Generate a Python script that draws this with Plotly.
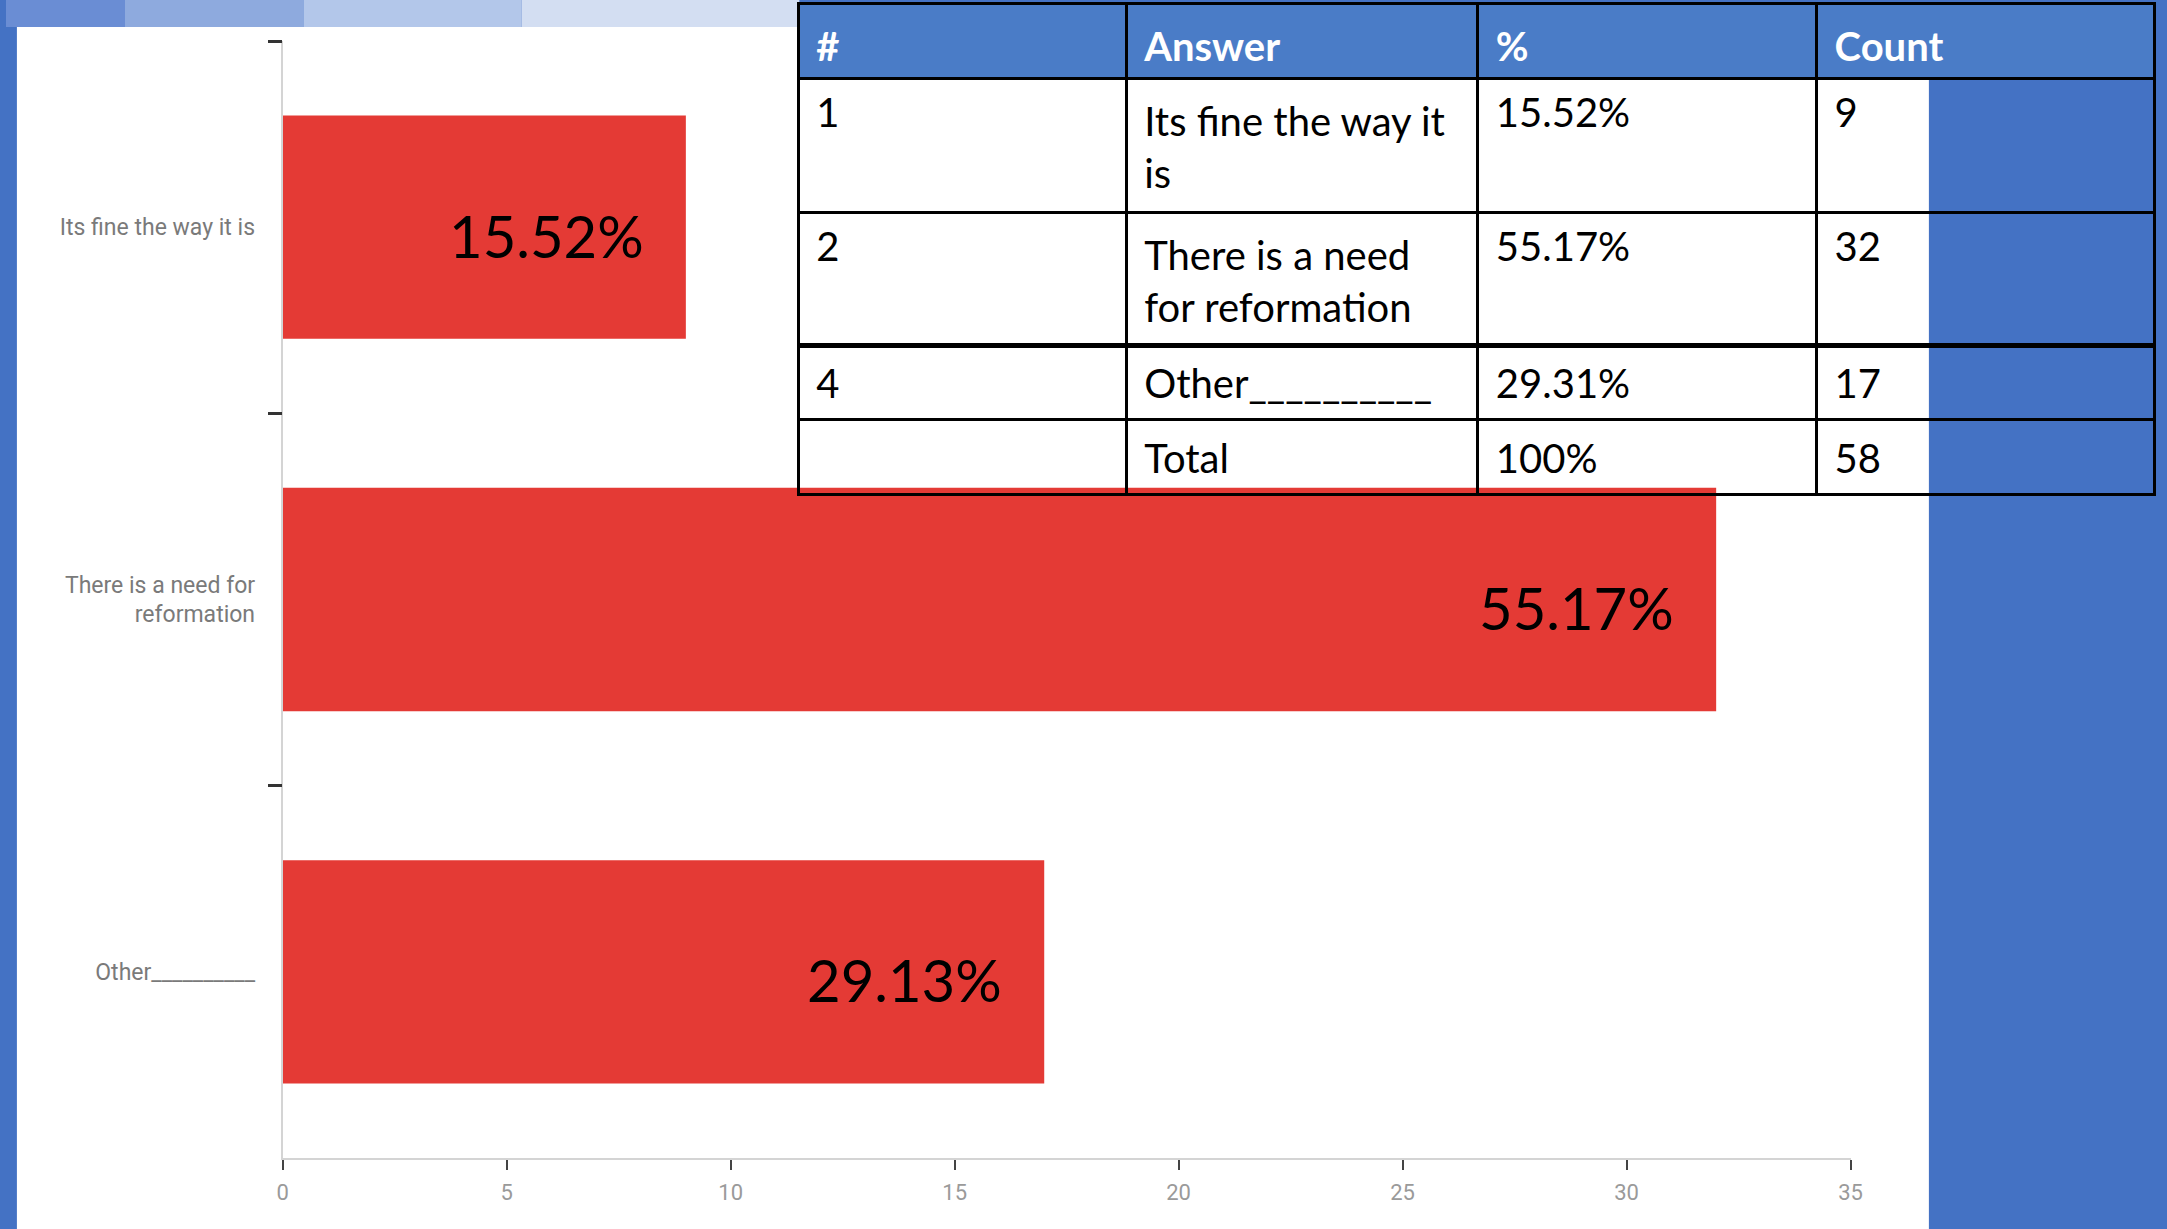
import plotly.graph_objects as go

# ---- data ----
categories = ["Its fine the way it is", "There is a need for reformation", "Other__________"]
counts = [9, 32, 17]
bar_labels = ["15.52%", "55.17%", "29.13%"]

table_header = ["#", "Answer", "%", "Count"]
table_num = ["1", "2", "4", ""]
table_answer = ["Its fine the way it is", "There is a need for reformation", "Other__________", "Total"]
table_pct = ["15.52%", "55.17%", "29.31%", "100%"]
table_count = ["9", "32", "17", "58"]

x_ticks = [0, 5, 10, 15, 20, 25, 30, 35]

W, H = 2167, 1229

def px(x):
    return x / W

def py(y):
    return 1 - y / H

tick_text = ["Its fine the way it is", "There is a need for<br>reformation", "Other__________"]
# line wrapping as it appears in the table
ans_wrapped = ["Its fine the way it<br>is", "There is a need<br>for reformation", "Other__________", "Total"]

PAD = "\u2005"
def padded(s):
    return PAD + s.replace("<br>", "<br>" + PAD) if s else s

fig = go.Figure()

fig.add_trace(go.Bar(
    x=counts, y=categories, orientation="h",
    marker=dict(color="#e43a35", line=dict(width=0)),
    hoverinfo="skip",
))

# invisible trace so the boundary-tick overlay axis is drawn
fig.add_trace(go.Scatter(x=[None], y=[None], yaxis="y2", showlegend=False, hoverinfo="skip"))

for c, v, lab in zip(categories, counts, bar_labels):
    fig.add_annotation(x=v, y=c, xref="x", yref="y", text=lab, showarrow=False,
                       xanchor="right", xshift=-40, yshift=-8,
                       font=dict(family="Lato, sans-serif", size=58, color="#000"))

cols = [table_num, ans_wrapped, table_pct, table_count]
cols = [[padded(v) for v in col] for col in cols]
blank = [["" for _ in col] for col in cols]
colw = [330, 354, 341, 340]
tfont = dict(family="Lato, sans-serif", size=40, color="black")
hfont = dict(family="Lato, sans-serif", size=40, color="white")
tline = dict(color="black", width=3)
noline = dict(color="rgba(0,0,0,0)", width=0)
clear = "rgba(0,0,0,0)"
hdr = [padded("<b>%s</b>" % h) for h in table_header]

def add_tables(vals, hvals, line, hfill, dy1, dy2):
    # header + two-line rows
    fig.add_trace(go.Table(
        domain=dict(x=[px(799), 1.0], y=[py(350 + dy1), py(3 + dy1)]),
        columnwidth=colw,
        header=dict(values=hvals, fill_color=hfill, align="left",
                    font=hfont, line=line, height=75),
        cells=dict(values=[col[:2] for col in vals], fill_color=clear, align="left",
                   font=tfont, line=line, height=134),
    ))
    # single-line rows (first one carried by the header slot, styled like body cells)
    fig.add_trace(go.Table(
        domain=dict(x=[px(799), 1.0], y=[py(500 + dy2), py(344 + dy2)]),
        columnwidth=colw,
        header=dict(values=[col[2] for col in vals], fill_color=clear, align="left",
                    font=tfont, line=line, height=75),
        cells=dict(values=[col[3:] for col in vals], fill_color=clear, align="left",
                   font=tfont, line=line, height=75),
    ))

# grid layer (borders + header fill)
add_tables(blank, ["" for _ in hdr], tline, "#4a7cc7", 0, 0)
# text layer, nudged down to sit vertically centred in the cells
add_tables(cols, hdr, noline, clear, 11, 16)

shapes = [
    dict(type="rect", xref="paper", yref="paper", x0=px(11), x1=px(1939), y0=0, y1=py(27),
         fillcolor="white", line=dict(width=0), layer="below"),
    dict(type="rect", xref="paper", yref="paper", x0=0, x1=px(120), y0=py(27), y1=1,
         fillcolor="#6a8dd4", line=dict(width=0), layer="below"),
    dict(type="rect", xref="paper", yref="paper", x0=px(120), x1=px(300), y0=py(27), y1=1,
         fillcolor="#8eaade", line=dict(width=0), layer="below"),
    dict(type="rect", xref="paper", yref="paper", x0=px(300), x1=px(520), y0=py(27), y1=1,
         fillcolor="#b3c7ea", line=dict(width=0), layer="below"),
    dict(type="rect", xref="paper", yref="paper", x0=px(520), x1=px(800), y0=py(27), y1=1,
         fillcolor="#d3def2", line=dict(width=0), layer="below"),
]

ydom = [py(1158), py(41)]
fig.update_layout(
    width=W, height=H,
    margin=dict(l=0, r=0, t=0, b=0),
    paper_bgcolor="#4472c4",
    plot_bgcolor="rgba(0,0,0,0)",
    showlegend=False,
    bargap=0.4,
    shapes=shapes,
    xaxis=dict(domain=[px(279), px(1860)], range=[0, 35], tickvals=x_ticks,
               showgrid=False, zeroline=False, showline=True, linecolor="#d4d4d4", linewidth=2,
               ticks="outside", ticklen=10, tickwidth=2, tickcolor="#444",
               tickfont=dict(family="Roboto, sans-serif", size=22, color="#9a9a9a"),
               ticklabelstandoff=4, fixedrange=True),
    yaxis=dict(domain=ydom, categoryorder="array", categoryarray=categories,
               autorange="reversed", tickvals=categories, ticktext=tick_text,
               ticks="", showgrid=False, zeroline=False, showline=True,
               linecolor="#d4d4d4", linewidth=2,
               tickfont=dict(family="Roboto, sans-serif", size=23, color="#7a7a7a"),
               ticklabelstandoff=21, fixedrange=True),
    yaxis2=dict(overlaying="y", anchor="x", side="left", range=[2.5, -0.5],
                tickvals=[-0.5, 0.5, 1.5], ticks="outside", ticklen=14, tickwidth=3,
                tickcolor="#333", showticklabels=False, showgrid=False, zeroline=False,
                showline=False, fixedrange=True),
)

fig.write_html("out.html", config={"displayModeBar": False},
               post_script="document.body.style.margin='0';")
